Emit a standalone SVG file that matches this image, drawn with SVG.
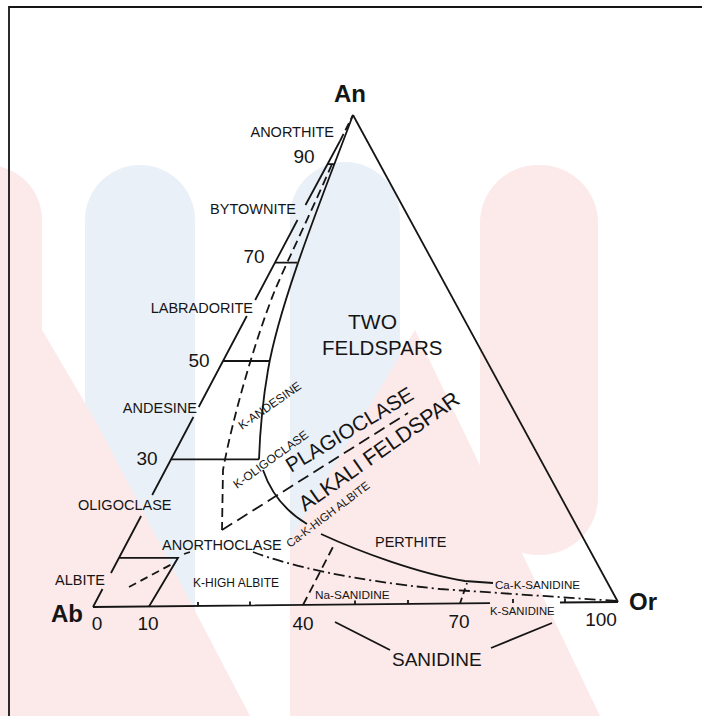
<svg xmlns="http://www.w3.org/2000/svg" width="702" height="716" viewBox="0 0 702 716">
<style>
.ln{stroke:#151515;stroke-width:1.8;fill:none;stroke-linecap:butt}
.ds{stroke-dasharray:9 5}
.dd{stroke-dasharray:11 4 2 4}
.t{font-family:"Liberation Sans",Arial,sans-serif;fill:#151515}
.b{font-weight:bold}
.pk{fill:#fce9e9}
.bl{fill:#e9f0f7}
</style>
<rect width="702" height="716" fill="#ffffff"/>
<g id="watermark">
<rect class="pk" x="-70" y="165" width="112" height="600" rx="55"/>
<rect class="bl" x="85" y="165" width="110" height="600" rx="55"/>
<rect class="bl" x="290" y="162" width="110" height="600" rx="55"/>
<rect class="pk" x="480" y="165" width="118" height="390" rx="58"/>
<polygon class="pk" points="0,400 42,330 95,420 250,716 0,716"/>
<polygon class="pk" points="415,330 600,716 290,716 290,540"/>
</g>
<g id="frame">
<path class="ln" d="M9 716 V7 H702" stroke-width="2.5"/>
</g>
<g id="connectors">
<path class="ln" d="M93 607 L102.5 589 M111 573 L141.1 516 M152.2 495 L193.4 417 M198.7 407 L246.8 316 M255.2 300 L297.5 220 M305.5 205 L340 141"/>
<path class="ln" d="M340 141 L353 115" stroke-dasharray="8 4"/>
<path class="ln" d="M353 115 L618 602"/>
<path class="ln" d="M93 607 L490 603.2 M560 602.5 L618 602"/>
<path class="ln" stroke-width="1.4" d="M198 606 v-4 M250 605.5 v-4 M355 604.5 v-4 M408 604 v-4 M513 603 v-4 M565 602.5 v-4"/>
<path class="ln" d="M327 164.2 H335 M275 262.6 H297 M223 361 H270 M171 459.4 H259"/>
<path class="ln" d="M353 115 C325 190 280 300 268 370 C262 405 260 430 259 459.4"/>
<path class="ln" d="M263 470 Q275 505 307 524"/>
<path class="ln" d="M321 534 C360 552 420 574 465 581 L493 583"/>
<path class="ln ds" d="M332 164 C310 215 290 255 275 290 C255 340 232 420 223 470 L222 530"/>
<path class="ln" d="M222 530 L408 413" stroke-dasharray="12 6"/>
<path class="ln" d="M119 557.8 H178 L149 606.5"/>
<path class="ln" d="M129 587 L172 564" stroke-dasharray="8 5"/>
<path class="ln" d="M184 554 L190 552"/>
<path class="ln dd" d="M253 552 C290 566 350 580 440 589 L617 601"/>
<path class="ln ds" d="M303 605 L335 543"/>
<path class="ln" d="M460 603.5 L467 583" stroke-dasharray="6 4"/>
<path class="ln" d="M335 622 L390 650 M552 623 L491 648"/>
</g>
<g id="corner-labels">
<text class="t b" x="350" y="102" font-size="24" text-anchor="middle">An</text>
<text class="t b" x="83" y="622" font-size="24" text-anchor="end">Ab</text>
<text class="t b" x="629" y="610" font-size="24">Or</text>
</g>
<g id="scale-labels" font-size="19">
<text class="t" x="97" y="630" text-anchor="middle">0</text>
<text class="t" x="148" y="630" text-anchor="middle">10</text>
<text class="t" x="303" y="630" text-anchor="middle">40</text>
<text class="t" x="459" y="628" text-anchor="middle">70</text>
<text class="t" x="601" y="626" text-anchor="middle">100</text>
<text class="t" x="147" y="465" text-anchor="middle">30</text>
<text class="t" x="199" y="367" text-anchor="middle">50</text>
<text class="t" x="254" y="263" text-anchor="middle">70</text>
<text class="t" x="304" y="163" text-anchor="middle">90</text>
</g>
<g id="plagioclase-labels" font-size="14.5">
<text class="t" x="334" y="137" text-anchor="end">ANORTHITE</text>
<text class="t" x="296" y="214" text-anchor="end">BYTOWNITE</text>
<text class="t" x="253" y="313" text-anchor="end">LABRADORITE</text>
<text class="t" x="197" y="413" text-anchor="end">ANDESINE</text>
<text class="t" x="78" y="510">OLIGOCLASE</text>
<text class="t" x="105" y="585" text-anchor="end">ALBITE</text>
<text class="t" x="162" y="550">ANORTHOCLASE</text>
<text class="t" x="375" y="547">PERTHITE</text>
</g>
<g id="small-labels">
<text class="t" x="193" y="587" font-size="12">K-HIGH ALBITE</text>
<text class="t" x="315" y="599" font-size="11.8">Na-SANIDINE</text>
<text class="t" x="495" y="589" font-size="11.6">Ca-K-SANIDINE</text>
<text class="t" x="490" y="615" font-size="11.3">K-SANIDINE</text>
<text class="t" transform="translate(242 430) rotate(-35)" font-size="12">K-ANDESINE</text>
<text class="t" transform="translate(237 489) rotate(-36)" font-size="12">K-OLIGOCLASE</text>
<text class="t" transform="translate(290 548) rotate(-37)" font-size="11.5">Ca-K-HIGH ALBITE</text>
</g>
<g id="field-labels">
<text class="t" x="348" y="329" font-size="21">TWO</text>
<text class="t" x="322" y="355" font-size="20.5">FELDSPARS</text>
<text class="t" transform="translate(291 473) rotate(-31)" font-size="20.7">PLAGIOCLASE</text>
<text class="t" transform="translate(305 512) rotate(-35)" font-size="21.5">ALKALI FELDSPAR</text>
<text class="t" x="392" y="666" font-size="19">SANIDINE</text>
</g>
</svg>
